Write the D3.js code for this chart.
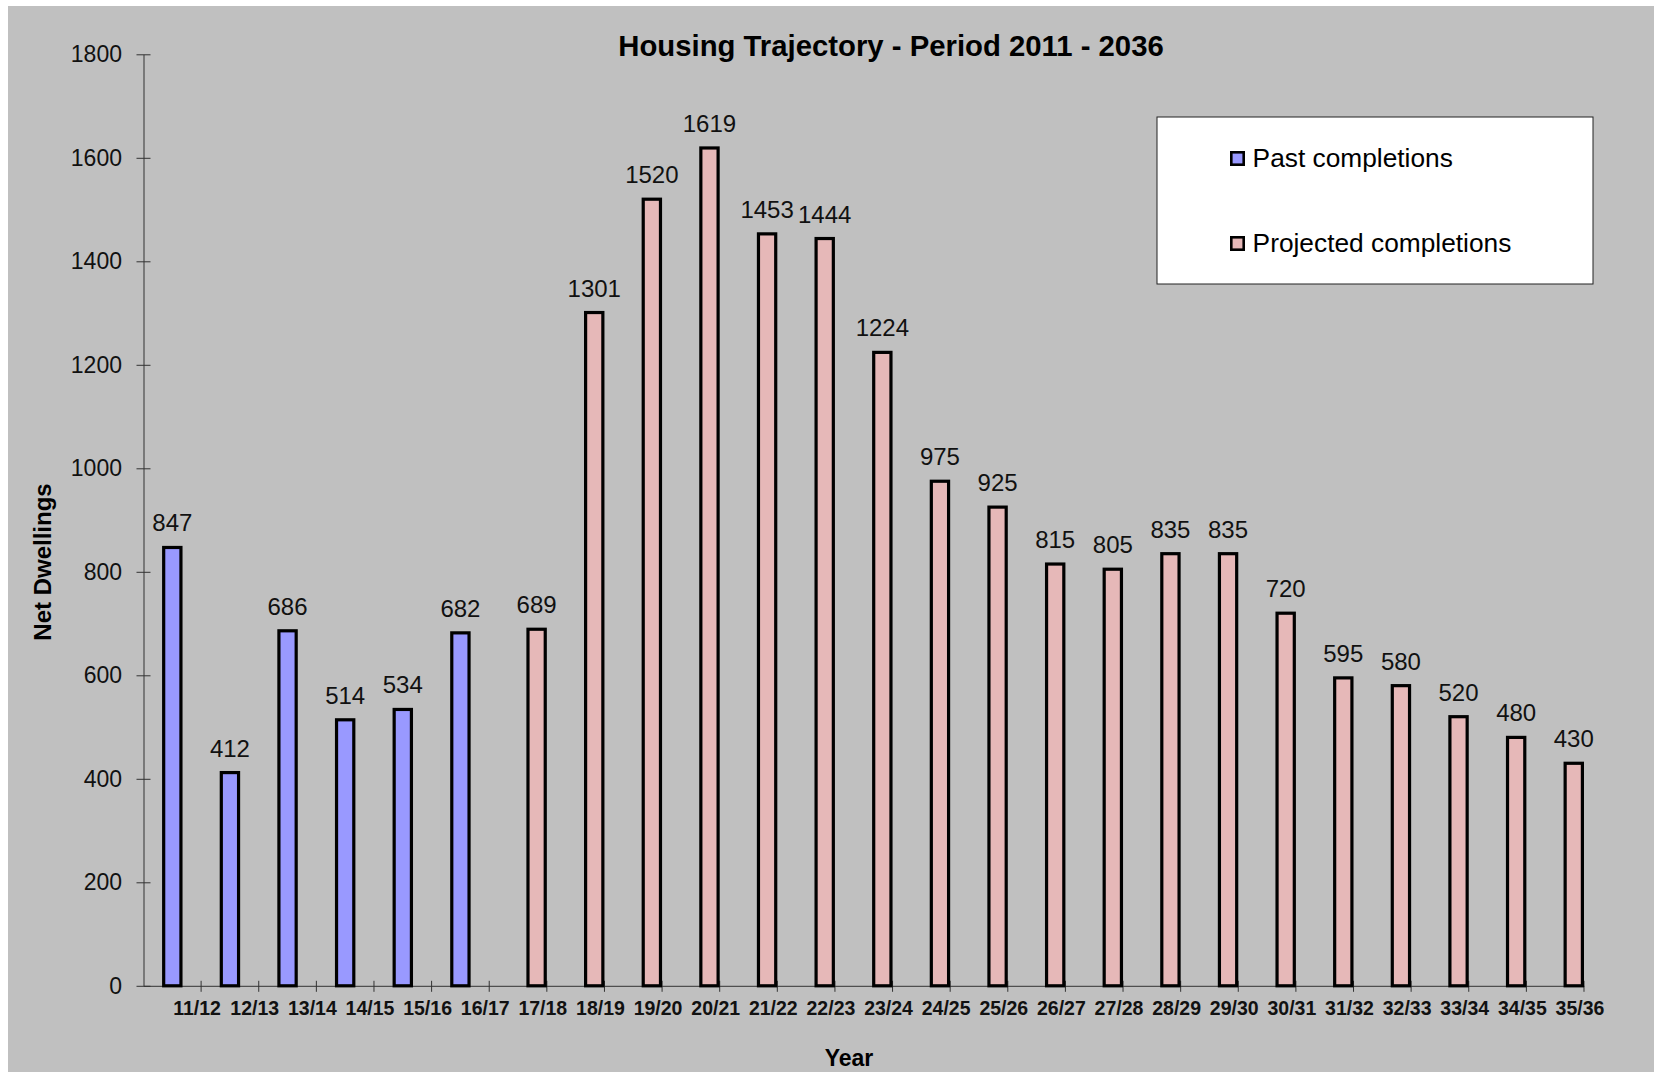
<!DOCTYPE html>
<html lang="en">
<head>
<meta charset="UTF-8">
<title>Housing Trajectory</title>
<script src="https://cdnjs.cloudflare.com/ajax/libs/d3/7.9.0/d3.min.js"></script>
<style>
    body { margin: 0; background: #fff; }
    svg { display: block; font-family: "Liberation Sans", Arial, sans-serif; }
    .axis path, .axis line { stroke: #333; stroke-width: 1; }
    .axis text { fill: #111; }
</style>
</head>
<body>
<svg id="chart" width="1654" height="1072"></svg>
<script>
    const years = ["11/12", "12/13", "13/14", "14/15", "15/16", "16/17", "17/18", "18/19", "19/20",
        "20/21", "21/22", "22/23", "23/24", "24/25", "25/26", "26/27", "27/28", "28/29", "29/30",
        "30/31", "31/32", "32/33", "33/34", "34/35", "35/36"];

    const pastYears = ["11/12", "12/13", "13/14", "14/15", "15/16", "16/17"];
    const pastCompletions = [847, 412, 686, 514, 534, 682];

    const projectedYears = ["17/18", "18/19", "19/20", "20/21", "21/22", "22/23", "23/24", "24/25",
        "25/26", "26/27", "27/28", "28/29", "29/30", "30/31", "31/32", "32/33", "33/34", "34/35", "35/36"];
    const projectedCompletions = [689, 1301, 1520, 1619, 1453, 1444, 1224, 975, 925, 815, 805, 835,
        835, 720, 595, 580, 520, 480, 430];

    const yTicks = [0, 200, 400, 600, 800, 1000, 1200, 1400, 1600, 1800];

    const series = [
        { name: "Past completions", color: "#9999ff", years: pastYears, values: pastCompletions, slot: "mid" },
        { name: "Projected completions", color: "#e6b8b8", years: projectedYears, values: projectedCompletions, slot: "right" }
    ];

    const svg = d3.select("#chart");

    // grey chart area, white strip at top/left like the original
    svg.append("rect").attr("x", 8).attr("y", 6).attr("width", 1646).attr("height", 1066).attr("fill", "#c0c0c0");

    const x = d3.scaleBand().domain(years).range([143.5, 1584]);
    const y = d3.scaleLinear().domain([0, 1800]).range([985.8, 54.3]);
    const bw = x.bandwidth();
    const barW = bw * 0.355;
    const strokeW = 3.2;

    // y axis
    const yAxis = svg.append("g").attr("class", "axis")
        .attr("transform", `translate(${x.range()[0]},0)`)
        .call(d3.axisLeft(y).tickValues(yTicks).tickFormat(d3.format("d"))
            .tickSize(7).tickPadding(14.5).tickSizeOuter(0));
    yAxis.selectAll(".tick line").attr("x1", 7);
    yAxis.selectAll("text").style("font-size", "23px");

    // x axis: ticks on category edges, labels near the right edge
    const xAxis = svg.append("g").attr("class", "axis")
        .attr("transform", `translate(0,${y(0)})`)
        .call(d3.axisBottom(x).tickSize(6).tickSizeOuter(0));
    xAxis.selectAll(".tick line").attr("x1", bw / 2).attr("x2", bw / 2).attr("y1", -5).attr("y2", 6);
    xAxis.selectAll(".tick text")
        .attr("x", bw / 2 - 4).attr("y", 29.5).attr("dy", null)
        .style("font-size", "19.5px").style("font-weight", "bold");

    // bars
    series.forEach(s => {
        const data = s.years.map((yr, i) => ({ year: yr, value: s.values[i] }));
        const left = d => s.slot === "mid" ? x(d.year) + bw / 2 - barW / 2 : x(d.year) + bw - barW;

        svg.append("g").selectAll("rect").data(data).enter().append("rect")
            .attr("x", d => left(d) + strokeW / 2)
            .attr("y", d => y(d.value))
            .attr("width", barW - strokeW)
            .attr("height", d => y(0) - y(d.value))
            .attr("fill", s.color)
            .attr("stroke", "#000")
            .attr("stroke-width", strokeW);

        svg.append("g").selectAll("text").data(data).enter().append("text")
            .attr("x", d => left(d) + barW / 2)
            .attr("y", d => y(d.value) - 16)
            .attr("text-anchor", "middle")
            .style("font-size", "24px")
            .attr("fill", "#111")
            .text(d => d.value);
    });

    // titles
    svg.append("text").attr("x", 891).attr("y", 56).attr("text-anchor", "middle")
        .style("font-size", "29.3px").style("font-weight", "bold")
        .text("Housing Trajectory - Period 2011 - 2036");

    svg.append("text").attr("transform", "translate(51,562) rotate(-90)").attr("text-anchor", "middle")
        .style("font-size", "24px").style("font-weight", "bold")
        .text("Net Dwellings");

    svg.append("text").attr("x", 849).attr("y", 1066).attr("text-anchor", "middle")
        .style("font-size", "23px").style("font-weight", "bold")
        .text("Year");

    // legend
    const legend = svg.append("g");
    legend.append("rect").attr("x", 1157).attr("y", 117).attr("width", 436).attr("height", 167)
        .attr("fill", "#fff").attr("stroke", "#222").attr("stroke-width", 1);
    const items = legend.selectAll("g.item").data(series).enter().append("g")
        .attr("transform", (d, i) => `translate(1230,${151 + i * 85})`);
    items.append("rect").attr("x", 1.3).attr("y", 1.3).attr("width", 12.4).attr("height", 12.4)
        .attr("fill", d => d.color).attr("stroke", "#000").attr("stroke-width", 2.6);
    items.append("text").attr("x", 22.6).attr("y", 16)
        .style("font-size", "26.3px").text(d => d.name);
</script>
</body>
</html>
